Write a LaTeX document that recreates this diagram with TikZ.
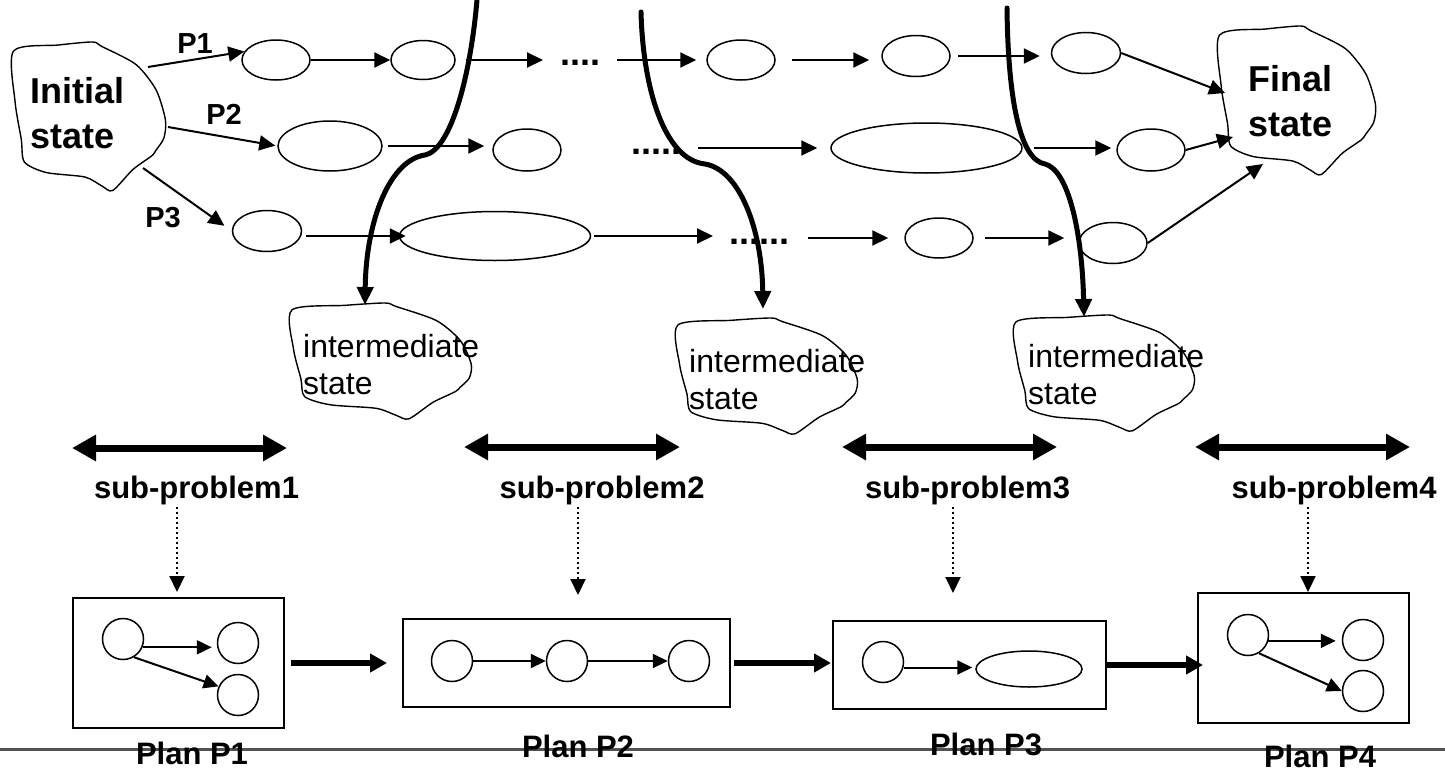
\documentclass[tikz,border=0pt]{standalone}
\usepackage{fontspec}
\setmainfont{Liberation Sans}
\usetikzlibrary{arrows.meta,shapes.geometric,calc}

% outline of a hand-drawn "state" cloud, in a unit box (x right, y down)
\newcommand\blobshape[4]{%
  \begin{scope}[shift={(#1,#2)},x=#3pt,y=-#4pt]
    \draw[blobline] plot[smooth cycle,tension=0.45] coordinates {(0.01,0.06) (0.30,0.02) (0.52,0.0) (0.58,0.03) (0.80,0.15) (0.93,0.32) (0.99,0.52) (0.98,0.64) (0.93,0.72) (0.90,0.76) (0.78,0.85) (0.65,0.99) (0.58,0.96) (0.47,0.90) (0.22,0.87) (0.08,0.80) (0.06,0.65) (0.02,0.40)};
  \end{scope}}

\tikzset{
  blobline/.style={line width=1.4pt, line join=round},
  bigtext/.style={font=\fontsize{36}{45}\selectfont\bfseries, inner sep=0pt, align=left},
  midtext/.style={font=\fontsize{32}{37}\selectfont, inner sep=0pt, align=left},
  pathlabel/.style={font=\fontsize{29}{33}\selectfont\bfseries, inner sep=0pt},
  subtext/.style={font=\fontsize{31}{36}\selectfont\bfseries, inner sep=2pt},
  plantext/.style={font=\fontsize{31}{36}\selectfont\bfseries, inner sep=0pt},
  dotstext/.style={font=\fontsize{36}{40}\selectfont\bfseries, inner sep=0pt},
  st/.style={draw, ellipse, line width=1.5pt, inner sep=0pt},
  pc/.style={draw, circle, line width=1.5pt, inner sep=0pt, minimum size=41pt},
  planbox/.style={draw, line width=2pt, inner sep=0pt},
  flowarrow/.style={line width=2pt, -{Triangle[length=16pt,width=15pt]}},
  innerarrow/.style={line width=2pt, -{Triangle[length=15pt,width=14pt]}},
  cutcurve/.style={line width=5pt, line cap=round, -{Triangle[length=18pt,width=16pt]}},
  spanarrow/.style={line width=7pt, {Triangle[length=24pt,width=25pt]}-{Triangle[length=24pt,width=25pt]}},
  planarrow/.style={line width=5.5pt, -{Triangle[length=17pt,width=18pt]}},
  dotarrow/.style={line width=2pt, dash pattern=on 2pt off 3pt, -{Triangle[length=16pt,width=15pt]}},
}

\begin{document}
\begin{tikzpicture}[x=1pt,y=-1pt]
\fill[white] (0,0) rectangle (1445,771);
\useasboundingbox (0,0) rectangle (1445,771);

% footer rule
\draw[line width=3.5pt, black!68] (0,749.5) -- (1445,749.5);

% ---------- state clouds ----------
\blobshape{12}{42}{155}{150}
\blobshape{1218}{26}{159}{150}
\blobshape{290}{303}{183}{117}
\blobshape{676}{318}{183}{117}
\blobshape{1014}{315}{182}{117}

\node[bigtext, anchor=north west] (init) at (30,77) {Initial\\state};
\node[bigtext, anchor=north west] (final) at (1248,65) {Final\\state};
\node[midtext, anchor=north west] (is1) at (303,334) {intermediate\\state};
\node[midtext, anchor=north west] (is2) at (689,349) {intermediate\\state};
\node[midtext, anchor=north west] (is3) at (1028,344) {intermediate\\state};

% points on the cloud outlines
\coordinate (ip1) at (148,67);
\coordinate (ip2) at (168,127);
\coordinate (ip3) at (143,168);
\coordinate (fp1) at (1225,93);
\coordinate (fp2) at (1233,137);
\coordinate (fp3) at (1263,164);

% ---------- intermediate states along the three paths ----------
\node[st, minimum width=68pt, minimum height=40pt] (e1) at (276,60) {};
\node[st, minimum width=64pt, minimum height=39pt] (e2) at (423,60) {};
\node[st, minimum width=68pt, minimum height=40pt] (e3) at (741,60) {};
\node[st, minimum width=68pt, minimum height=41pt] (e4) at (916,56) {};
\node[st, minimum width=69pt, minimum height=41pt] (e5) at (1086,53) {};

\node[st, minimum width=104pt, minimum height=50pt] (e6) at (330,146) {};
\node[st, minimum width=68pt, minimum height=42pt] (e7) at (527,150) {};
\node[st, minimum width=191pt, minimum height=50pt] (e8) at (926.5,148) {};
\node[st, minimum width=68pt, minimum height=42pt] (e9) at (1151,150) {};

\node[st, minimum width=69pt, minimum height=41pt] (e10) at (267,231) {};
\node[st, minimum width=191pt, minimum height=49pt] (e11) at (495,236) {};
\node[st, minimum width=68pt, minimum height=40pt] (e12) at (939,238) {};
\node[st, minimum width=68pt, minimum height=41pt] (e13) at (1113,243) {};

\node[dotstext, anchor=base west] (d1) at (560,65) {....};
\node[dotstext, anchor=base west] (d2) at (631,154) {.....};
\node[dotstext, anchor=base west] (d3) at (729,244) {......};

\node[pathlabel] (lp1) at (195,44) {P1};
\node[pathlabel] (lp2) at (224,114) {P2};
\node[pathlabel] (lp3) at (163,218) {P3};

% path P1
\draw[flowarrow] (ip1) -- (e1.165);
\draw[flowarrow] (e1.east) -- (e1.east -| e2.west);
\draw[flowarrow, shorten <=10pt, shorten >=17pt] (e2.east) -- (e2.east -| d1.west);
\draw[flowarrow, shorten <=17pt, shorten >=10pt] (e3.west -| d1.east) -- (e3.west);
\draw[flowarrow, shorten <=16pt, shorten >=12pt] (e3.east) -- (e3.east -| e4.west);
\draw[flowarrow, shorten <=7pt, shorten >=11pt] (e4.east) -- (e4.east -| e5.west);
\draw[flowarrow] (e5.east) -- (fp1);

% path P2
\draw[flowarrow, shorten >=2pt] (ip2) -- (e6.west);
\draw[flowarrow, shorten <=5pt, shorten >=8pt] (e6.east) -- (e6.east -| e7.west);
\draw[flowarrow, shorten <=17pt, shorten >=13pt] (e8.west -| d2.east) -- (e8.west);
\draw[flowarrow, shorten <=11pt, shorten >=5pt] (e8.east) -- (e8.east -| e9.west);
\draw[flowarrow] (e9.east) -- (fp2);

% path P3
\draw[flowarrow, shorten >=9pt] (ip3) -- (e10.west);
\draw[flowarrow, shorten <=4pt, shorten >=-7pt] (e11.west -| e10.east) -- (e11.west);
\draw[flowarrow, shorten <=3pt, shorten >=16pt] (e11.east) -- (e11.east -| d3.west);
\draw[flowarrow, shorten <=19pt, shorten >=16pt] (e12.west -| d3.east) -- (e12.west);
\draw[flowarrow, shorten <=11pt, shorten >=14pt] (e12.east) -- (e12.east -| e13.west);
\draw[flowarrow] (e13.east) -- (fp3);

% ---------- cuts into sub-problems ----------
\coordinate (cs1) at (477,0);
\coordinate (cs2) at (641,12);
\coordinate (cs3) at (1007,8);
\coordinate (t1) at (365,305);
\coordinate (t2) at (763,309);
\coordinate (t3) at (1084,317);
\draw[cutcurve] (cs1) .. controls (470,80) and (450,150) .. (425,155)
                      .. controls (390,160) and (366,220) .. (t1);
\draw[cutcurve] (cs2) .. controls (643,90) and (665,160) .. (705,164)
                      .. controls (740,170) and (762,230) .. (t2);
\draw[cutcurve] (cs3) .. controls (1008,100) and (1020,160) .. (1045,164)
                      .. controls (1068,170) and (1082,230) .. (t3);

% ---------- sub-problems ----------
\coordinate (s1l) at (72,448);   \coordinate (s1r) at (287,448);
\coordinate (s2l) at (464,447);  \coordinate (s2r) at (680,447);
\coordinate (s3l) at (842,447);  \coordinate (s3r) at (1057,447);
\coordinate (s4l) at (1195,447); \coordinate (s4r) at (1410,447);
\draw[spanarrow] (s1l) -- (s1r);
\draw[spanarrow] (s2l) -- (s2r);
\draw[spanarrow] (s3l) -- (s3r);
\draw[spanarrow] (s4l) -- (s4r);

\node[subtext, anchor=base] (sp1) at (196.5,498) {sub-problem1};
\node[subtext, anchor=base] (sp2) at (602,498) {sub-problem2};
\node[subtext, anchor=base] (sp3) at (967.5,498) {sub-problem3};
\node[subtext, anchor=base] (sp4) at (1334,498) {sub-problem4};

% ---------- plans ----------
\node[planbox, minimum width=211pt, minimum height=130pt] (plan1) at (178.5,663) {};
\node[planbox, minimum width=327pt, minimum height=88pt] (plan2) at (566.5,663) {};
\node[planbox, minimum width=273pt, minimum height=88pt] (plan3) at (969.5,665) {};
\node[planbox, minimum width=211pt, minimum height=130pt] (plan4) at (1303.5,658) {};

\coordinate (da1) at (177,592);
\coordinate (da2) at (578,595);
\coordinate (da3) at (953,593);
\coordinate (da4) at (1308,592);
\draw[dotarrow] (sp1.south -| da1) -- (da1);
\draw[dotarrow] (sp2.south -| da2) -- (da2);
\draw[dotarrow] (sp3.south -| da3) -- (da3);
\draw[dotarrow] (sp4.south -| da4) -- (da4);

% plan P1
\node[pc] (p1a) at (123,639) {};
\node[pc] (p1b) at (238,643) {};
\node[pc] (p1c) at (238,695) {};
\draw[innerarrow, shorten >=5pt] (p1a.-23) -- (p1a.-23 -| p1b.west);
\draw[innerarrow] (p1a.-59) -- (p1c.156);

% plan P2
\node[pc] (p2a) at (452,661) {};
\node[pc] (p2b) at (567,661) {};
\node[pc] (p2c) at (689,661) {};
\draw[innerarrow] (p2a.east) -- (p2b.west);
\draw[innerarrow] (p2b.east) -- (p2c.west);

% plan P3
\node[pc] (p3a) at (883,662) {};
\node[st, minimum width=106pt, minimum height=36pt] (p3e) at (1029,669) {};
\draw[innerarrow, shorten >=3pt] (p3a.-15) -- (p3a.-15 -| p3e.west);

% plan P4
\node[pc] (p4a) at (1248,635) {};
\node[pc] (p4b) at (1363,640) {};
\node[pc] (p4c) at (1363,691) {};
\draw[innerarrow, shorten >=6pt] (p4a.-16) -- (p4a.-16 -| p4b.west);
\draw[innerarrow] (p4a.-59) -- (p4c.180);

% plan sequence
\draw[planarrow, shorten <=6pt, shorten >=15pt] (plan1.east) -- (plan2.west);
\draw[planarrow, shorten <=3pt, shorten >=1pt] (plan2.east) -- (plan2.east -| plan3.west);
\draw[planarrow, shorten >=-6pt] (plan3.east) -- (plan3.east -| plan4.west);

\node[plantext, anchor=base] (pl1) at (192,764) {Plan P1};
\node[plantext, anchor=base] (pl2) at (578,757) {Plan P2};
\node[plantext, anchor=base] (pl3) at (986,755) {Plan P3};
\node[plantext, anchor=base] (pl4) at (1320,767) {Plan P4};
\end{tikzpicture}
\end{document}
